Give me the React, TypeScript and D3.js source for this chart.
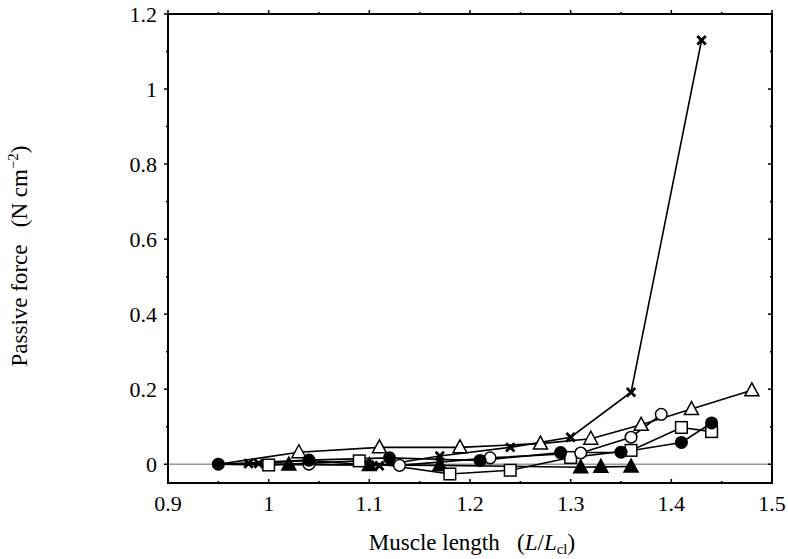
import React from "react";
import * as d3 from "d3";

const xTicks = [0.9, 1, 1.1, 1.2, 1.3, 1.4, 1.5];
const yTicks = [0, 0.2, 0.4, 0.6, 0.8, 1, 1.2];

const crossX = [0.98, 0.99, 1.04, 1.1, 1.11, 1.17, 1.24, 1.3, 1.36, 1.43];
const crossY = [0.002, 0.002, 0.01, -0.002, -0.004, 0.022, 0.045, 0.072, 0.192, 1.13];

const openTriX = [0.95, 1.03, 1.11, 1.19, 1.27, 1.32, 1.37, 1.42, 1.48];
const openTriY = [0, 0.032, 0.045, 0.045, 0.055, 0.068, 0.105, 0.147, 0.197];

const openCircX = [0.95, 1.04, 1.13, 1.22, 1.31, 1.36, 1.39];
const openCircY = [0, 0, -0.003, 0.017, 0.03, 0.072, 0.133];

const fillCircX = [0.95, 1.04, 1.12, 1.21, 1.29, 1.35, 1.41, 1.44];
const fillCircY = [0, 0.011, 0.017, 0.01, 0.031, 0.032, 0.058, 0.11];

const openSqX = [0.95, 1.0, 1.09, 1.18, 1.24, 1.3, 1.36, 1.41, 1.44];
const openSqY = [0, -0.002, 0.009, -0.026, -0.016, 0.018, 0.037, 0.098, 0.087];

const fillTriX = [0.95, 1.02, 1.1, 1.17, 1.31, 1.33, 1.36];
const fillTriY = [0, -0.001, -0.002, -0.003, -0.008, -0.007, -0.006];

const W = 788, H = 559;
const L = 168, R = 772, T = 14, B = 483;

export default function App() {
  const x = d3.scaleLinear().domain([0.9, 1.5]).range([L, R]);
  const y = d3.scaleLinear().domain([-0.05, 1.2]).range([B, T]);
  const line = d3.line<[number, number]>().x(d => x(d[0])).y(d => y(d[1]));
  const zip = (a: number[], b: number[]) => a.map((v, i) => [v, b[i]] as [number, number]);

  const series = [
    { pts: zip(fillTriX, fillTriY), kind: "tri", fill: "#000", skipFirst: true },
    { pts: zip(openSqX, openSqY), kind: "sq", fill: "#fff", skipFirst: true },
    { pts: zip(openCircX, openCircY), kind: "circ", fill: "#fff", skipFirst: true },
    { pts: zip(openTriX, openTriY), kind: "tri", fill: "#fff", skipFirst: true },
    { pts: zip(crossX, crossY), kind: "cross", fill: "#000", skipFirst: false },
    { pts: zip(fillCircX, fillCircY), kind: "circ", fill: "#000", skipFirst: false },
  ];

  const marker = (kind: string, fill: string, px: number, py: number, k: string) => {
    if (kind === "circ") return <circle key={k} cx={px} cy={py} r={5.8} fill={fill} stroke="#000" strokeWidth={1.5} />;
    if (kind === "sq") return <rect key={k} x={px - 5.8} y={py - 5.8} width={11.6} height={11.6} fill={fill} stroke="#000" strokeWidth={1.5} />;
    if (kind === "tri") return <path key={k} d={`M${px},${py - 7.5}L${px + 7},${py + 5.5}L${px - 7},${py + 5.5}Z`} fill={fill} stroke="#000" strokeWidth={1.5} />;
    return (
      <g key={k} stroke="#000" strokeWidth={2.8} strokeLinecap="butt">
        <line x1={px - 4.2} y1={py - 4.2} x2={px + 4.2} y2={py + 4.2} />
        <line x1={px - 4.2} y1={py + 4.2} x2={px + 4.2} y2={py - 4.2} />
      </g>
    );
  };

  const xMinor = d3.range(0, 13).map(i => 0.9 + i * 0.05);
  const yMinor = d3.range(0, 13).map(i => i * 0.1);
  const font = "'Liberation Serif', 'Times New Roman', serif";
  const tick = { fontFamily: font, fontSize: "22px" };
  const title = { fontFamily: font, fontSize: "23px" };
  const sub = { fontSize: "15px" };

  return (
    <svg width={W} height={H} style={{ position: "absolute", left: 0, top: 0, background: "#fff" }}>
      <rect x={0} y={0} width={W} height={H} fill="#fff" />
      <line x1={L} x2={R} y1={y(0)} y2={y(0)} stroke="#999" strokeWidth={1.5} />
      {series.map((s, si) => (
        <path key={"l" + si} d={line(s.pts) || ""} fill="none" stroke="#000" strokeWidth={1.6} />
      ))}
      {series.map((s, si) => s.pts.map((p, pi) => (s.skipFirst && pi === 0 ? null : marker(s.kind, s.fill, x(p[0]), y(p[1]), `m${si}-${pi}`))))}
      <rect x={L} y={T} width={R - L} height={B - T} fill="none" stroke="#000" strokeWidth={2} />
      {xMinor.map((v, i) => {
        const major = i % 2 === 0;
        const len = major ? 4 : 2;
        return (
          <g key={"xt" + i}>
            <line x1={x(v)} x2={x(v)} y1={B} y2={B - len} stroke="#000" strokeWidth={1.5} />
            <line x1={x(v)} x2={x(v)} y1={T} y2={T - len} stroke="#000" strokeWidth={1.5} />
          </g>
        );
      })}
      {yMinor.map((v, i) => {
        const major = i % 2 === 0;
        const len = major ? 4 : 2;
        return (
          <g key={"yt" + i}>
            <line x1={L - len} x2={L} y1={y(v)} y2={y(v)} stroke="#000" strokeWidth={1.5} />
            <line x1={R - len} x2={R} y1={y(v)} y2={y(v)} stroke="#000" strokeWidth={1.5} />
          </g>
        );
      })}
      {xTicks.map(v => (
        <text key={"xl" + v} x={x(v)} y={511} textAnchor="middle" style={tick}>{String(v)}</text>
      ))}
      {yTicks.map(v => (
        <text key={"yl" + v} x={L - 11} y={y(v) + 8} textAnchor="end" style={tick}>{String(v)}</text>
      ))}
      <text x={472} y={550} textAnchor="middle" style={title}>
        Muscle length{"\u2002 "}(<tspan fontStyle="italic">L</tspan>/<tspan fontStyle="italic">L</tspan><tspan style={sub} dy={4}>cl</tspan><tspan dy={-4}>)</tspan>
      </text>
      <text transform={`translate(27,${256}) rotate(-90)`} textAnchor="middle" style={title}>
        Passive force{"\u2002 "}(N cm<tspan style={sub} dy={-9}>−2</tspan><tspan dy={9}>)</tspan>
      </text>
    </svg>
  );
}
